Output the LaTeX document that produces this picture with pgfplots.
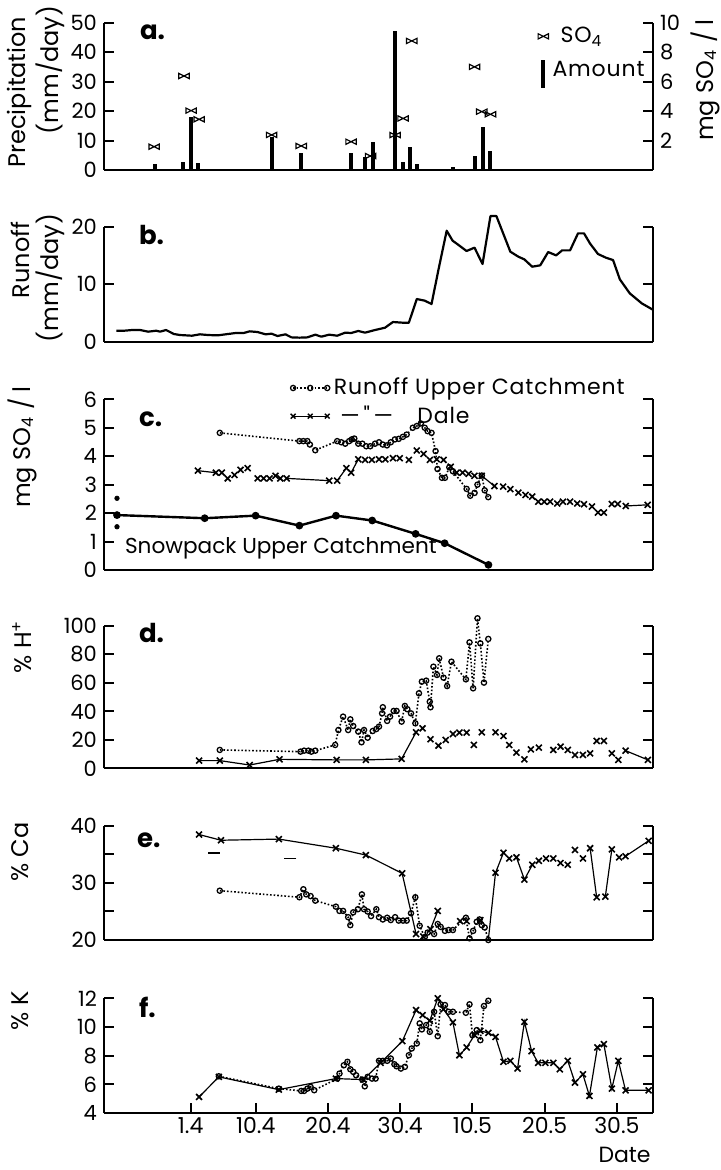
\documentclass[border=0pt]{standalone}
\usepackage{fontspec}
\setmainfont{Poppins}
\usepackage{pgfplots}
\usepackage{pgfplotstable}
\pgfplotsset{compat=1.18}
\newcommand\tickfont{\fontsize{10.5}{12}\selectfont}
\newcommand\xtickfont{\fontsize{11}{13}\selectfont}
\newcommand\labfont{\fontsize{12}{14}\selectfont}
\newcommand\panfont{\fontsize{13}{15}\selectfont\bfseries}
\newcommand\legfont{\fontsize{11}{13}\selectfont\addfontfeature{LetterSpace=4}}
\newcommand\snowfont{\fontsize{10.8}{13}\selectfont}

\pgfdeclareplotmark{bowtie}{%
  \pgfpathmoveto{\pgfqpoint{-2.6pt}{-1.3pt}}%
  \pgfpathlineto{\pgfqpoint{-2.6pt}{1.3pt}}%
  \pgfpathlineto{\pgfqpoint{2.6pt}{-1.3pt}}%
  \pgfpathlineto{\pgfqpoint{2.6pt}{1.3pt}}%
  \pgfpathclose
  \pgfusepathqstroke}

\pgfplotsset{
 panel/.style={scale only axis, width=274.5pt, xmin=-11, xmax=65,
   axis x line*=bottom, axis y line*=box,
   axis line style={line width=1pt},
   tick align=inside, major tick length=5pt,
   tick style={line width=1pt, black},
   xtick=\empty, yticklabel pos=left, clip=false,
   tick label style={font=\tickfont},
   /pgf/number format/assume math mode=true,
   unbounded coords=jump},
 dalemk/.style={black, only marks, mark=x, mark size=2.1pt, mark options={line width=0.8pt}},
 daleln/.style={black, line width=0.6pt, no marks},
 runoff/.style={black, densely dotted, line width=0.8pt, mark=o, mark size=1.3pt, mark options={solid, line width=0.65pt}},
 onelegend/.style={legend image code/.code={\draw[##1] plot coordinates {(0.1cm,0cm)};}},
 threelegend/.style={legend image code/.code={\draw[##1] plot coordinates {(0cm,0cm) (0.3cm,0cm) (0.6cm,0cm)};}},
 barlegend/.style={legend image code/.code={\draw[black, line width=2pt] (0.1cm,-0.3cm) -- (0.1cm,0.18cm);}},
}

% ---------------- panel a
\pgfplotstableread{
x y
-4 2.0
0 2.8
1 18.1
2 2.5
12.2 11.1
16.3 5.7
23.2 5.9
25.2 4.5
26.3 9.6
29.3 47.2
30.4 2.7
31.3 7.9
32.3 2.0
37.3 1.1
40.3 4.9
41.4 14.7
42.5 6.4
}\precip
\pgfplotstableread{
x y
-4.06 1.58
0.07 6.38
1.06 4.03
2.17 3.44
12.2 2.38
16.3 1.63
23.2 1.92
25.9 0.95
29.3 2.37
30.4 3.5
31.6 8.76
40.3 7.0
41.3 3.96
42.5 3.78
}\sofour
% ---------------- panel b
\pgfplotstableread{
x y
-9.30 1.91
-8.19 1.91
-7.09 2.03
-5.99 2.03
-4.89 1.74
-3.79 1.91
-3.24 1.74
-2.41 2.03
-1.31 1.33
-0.48 1.16
1.17 1.04
2.28 1.28
3.38 1.16
4.75 1.10
6.13 1.33
7.23 1.51
8.34 1.51
9.16 1.80
10.26 1.68
11.37 1.28
12.19 1.39
13.02 0.99
14.12 1.28
14.95 0.75
16.05 0.70
17.15 0.75
18.25 1.22
19.08 0.87
20.18 1.22
21.28 1.04
22.39 1.57
23.21 1.51
24.20 1.86
25.14 1.57
26.52 2.03
27.90 2.43
29.00 3.42
30.38 3.30
31.20 3.30
32.30 7.42
33.41 7.13
34.34 6.55
35.34 12.75
36.44 19.30
37.26 17.56
38.09 16.81
39.19 15.77
40.29 16.35
41.40 13.51
42.50 21.85
43.32 21.85
45.25 15.65
46.36 14.78
47.18 14.32
48.28 13.04
49.39 13.28
50.49 15.59
51.59 15.01
52.42 15.88
53.52 15.88
54.62 18.84
55.45 18.84
56.27 17.10
57.38 15.25
58.48 14.61
59.47 14.20
60.41 10.84
61.78 8.41
63.44 6.67
65.00 5.55
}\runoffb
% ---------------- panel c
\pgfplotstableread{
x y
5.03 4.82
16.05 4.53
16.6 4.53
17.15 4.53
17.5 4.41
18.25 4.21
21.28 4.53
21.84 4.49
22.39 4.44
22.94 4.53
23.3 4.59
23.65 4.62
24.2 4.44
24.76 4.44
25.3 4.35
25.86 4.35
26.52 4.44
27.07 4.49
27.6 4.41
28.17 4.38
28.7 4.49
29.27 4.59
29.8 4.61
30.38 4.68
30.9 4.76
31.75 5.0
32.3 5.06
32.86 5.15
33.4 5.0
33.8 4.88
34.34 4.82
34.9 4.18
35.17 3.55
35.78 3.24
36.2 3.24
36.8 3.61
37.3 3.47
39.2 2.85
39.7 2.61
40.3 2.71
40.7 3.0
41.3 3.32
41.7 2.8
42.2 2.56
}\cRun
\pgfplotstableread{
x y
2.0 3.49
4.48 3.42
5.31 3.42
6.13 3.22
7.07 3.34
7.9 3.52
8.89 3.58
10.26 3.22
11.09 3.22
11.92 3.22
12.74 3.31
13.4 3.22
14.29 3.22
20.18 3.14
21.28 3.14
22.55 3.58
23.21 3.42
24.2 3.89
25.14 3.87
26.08 3.87
27.07 3.89
27.95 3.89
29.0 3.93
29.94 3.93
31.2 3.87
32.3 4.20
33.24 4.08
34.12 3.87
35.06 3.89
36.0 3.87
36.99 3.63
37.81 3.42
38.64 3.42
39.47 3.38
40.29 3.31
41.29 3.31
43.05 2.95
44.26 2.93
45.25 2.84
46.36 2.72
47.35 2.64
48.28 2.58
49.11 2.40
49.94 2.40
50.76 2.40
51.75 2.34
52.53 2.40
53.52 2.40
54.51 2.34
55.45 2.31
56.55 2.23
57.38 2.02
58.2 2.02
59.3 2.32
60.13 2.32
61.23 2.25
64.26 2.29
}\cDale
\pgfplotstableread{
x y
2.0 3.49
4.48 3.42
nan nan
14.29 3.22
20.18 3.14
nan nan
21.28 3.14
22.55 3.58
nan nan
23.21 3.42
24.2 3.89
nan nan
41.29 3.31
43.05 2.95
nan nan
61.23 2.25
64.26 2.29
}\cDaleLn
\pgfplotstableread{
x y
-9.2 1.93
2.94 1.82
9.99 1.91
16.05 1.56
21.12 1.91
26.13 1.74
32.14 1.27
36.16 0.94
42.22 0.18
}\cSnow
\pgfplotstableread{
x y
-9.2 2.52
-9.2 1.52
}\cSnowExtra
% ---------------- panel d
\pgfplotstableread{
x y
5.03 12.9
16.2 11.7
16.7 12.4
17.3 12.4
17.7 11.7
18.25 12.4
21.0 16.4
21.45 26.9
22.1 36.3
22.8 26.9
23.1 34.4
23.5 29.7
24.2 25.8
24.65 18.3
25.0 26.9
25.5 21.5
26.2 26.2
26.7 27.6
27.07 29.3
27.5 38.6
27.6 42.9
28.2 33.3
28.6 36.3
29.1 40.3
29.5 40.3
30.2 32.8
30.65 43.8
31.0 41.5
31.5 38.6
32.1 31.6
32.6 52.7
33.0 60.9
33.6 61.6
34.1 46.8
34.2 42.9
34.6 71.4
35.1 65.6
35.4 77.3
36.0 63.7
36.5 57.8
37.1 74.9
39.1 62.5
39.6 88.5
40.1 56.2
40.7 105.4
41.1 87.8
41.6 60.2
42.2 90.9
}\dRun
\pgfplotstableread{
x y
2.16 5.4
5.03 5.4
9.16 2.3
13.3 6.3
21.2 5.9
25.25 5.9
30.2 6.6
32.2 25.3
33.1 28.1
34.2 20.4
35.3 15.9
36.3 19.9
37.3 24.1
38.2 25.1
39.2 25.1
40.2 16.4
41.3 25.3
43.2 25.3
44.3 22.7
45.1 16.4
46.1 11.0
47.2 6.3
48.1 13.3
49.2 14.5
51.2 12.9
52.2 15.2
53.2 12.9
54.2 9.4
55.3 9.4
56.3 10.5
57.2 19.2
58.2 19.2
59.3 10.5
60.2 5.9
61.2 12.4
64.3 5.9
}\dDale
\pgfplotstableread{
x y
2.16 5.4
5.03 5.4
9.16 2.3
13.3 6.3
21.2 5.9
25.25 5.9
30.2 6.6
32.2 25.3
nan nan
61.2 12.4
64.3 5.9
}\dDaleLn
% ---------------- panel e
\pgfplotstableread{
x y
5.03 28.65
16.05 27.5
16.6 28.9
17.0 28.0
17.6 27.7
18.25 26.9
21.1 25.85
21.6 25.1
22.1 25.1
22.8 24.0
23.1 22.6
23.5 24.85
24.15 25.4
24.7 28.0
25.0 25.4
25.5 25.0
25.97 24.2
26.7 25.4
27.07 24.0
27.6 23.6
28.2 23.9
28.7 23.5
29.3 24.0
29.8 23.4
30.4 23.4
30.9 23.4
31.5 24.7
32.1 27.5
32.7 22.5
33.4 20.5
33.8 21.3
34.7 21.05
35.2 22.8
35.6 22.3
36.2 21.6
36.7 21.75
37.3 21.75
39.1 23.9
39.6 20.3
40.1 21.6
40.6 23.2
41.0 23.6
41.3 22.6
41.7 22.2
42.2 20.0
}\eRun
\pgfplotstableread{
x y
2.16 38.5
5.2 37.5
13.2 37.7
21.1 36.1
25.25 34.9
30.27 31.7
32.2 21.05
33.2 20.6
34.2 21.9
35.2 25.1
38.3 23.3
39.2 23.3
41.1 23.5
43.2 31.8
44.3 35.3
45.1 34.3
46.1 34.5
47.2 30.6
48.3 33.2
49.2 33.9
50.2 34.3
51.2 34.3
52.2 33.5
53.2 33.2
54.2 35.8
55.3 34.3
56.3 36.1
57.2 27.5
58.4 27.6
59.3 35.9
60.3 34.5
61.2 34.7
64.4 37.4
}\eDale
\pgfplotstableread{
x y
2.16 38.5
5.2 37.5
13.2 37.7
21.1 36.1
25.25 34.9
30.27 31.7
32.2 21.05
nan nan
34.2 21.9
35.2 25.1
nan nan
42.2 20.0
43.2 31.8
44.3 35.3
nan nan
46.1 34.5
47.2 30.6
48.3 33.2
nan nan
56.3 36.1
57.2 27.5
nan nan
58.4 27.6
59.3 35.9
nan nan
61.2 34.7
64.4 37.4
}\eDaleLn
\pgfplotstableread{
x y
4.2 35.3
14.8 34.3
}\eDash
% ---------------- panel f
\pgfplotstableread{
x y
4.9 6.56
13.2 5.70
16.3 5.54
16.7 5.54
17.15 5.70
17.6 5.82
18.1 5.59
21.3 6.40
21.6 6.75
22.2 7.33
22.7 7.57
23.1 7.05
23.5 6.87
23.9 6.63
24.76 6.33
25.1 5.86
25.5 6.52
26.1 6.40
26.6 6.40
27.07 7.64
27.6 7.64
28.2 7.64
28.7 7.80
29.2 7.40
29.5 7.26
30.1 7.10
30.65 7.22
31.2 8.03
31.6 8.50
32.3 8.85
32.7 10.25
33.0 9.83
33.6 10.13
34.1 9.66
34.7 11.06
35.2 9.36
35.6 11.58
36.2 11.53
36.7 11.06
37.3 11.06
39.1 10.99
39.6 11.58
40.0 9.43
40.6 9.78
41.1 9.08
41.6 11.46
42.2 11.83
}\fRun
\pgfplotstableread{
x y
2.16 5.12
4.9 6.52
13.2 5.63
21.1 6.40
24.9 6.33
27.3 7.50
30.3 9.01
32.2 11.18
33.1 10.83
34.1 10.43
35.2 12.0
36.0 11.23
37.3 10.32
38.2 8.03
39.2 8.57
40.3 9.43
41.1 9.73
42.2 9.59
43.2 9.31
44.3 7.57
45.25 7.64
46.25 7.10
47.2 10.36
48.2 8.31
49.1 7.50
50.1 7.50
51.2 7.50
52.1 7.05
53.2 7.64
54.2 6.12
55.3 6.70
56.2 5.19
57.3 8.57
58.2 8.80
59.3 5.70
60.2 7.64
61.2 5.58
64.4 5.58
}\fDale

\begin{document}
\begin{tikzpicture}
\useasboundingbox (0,0) rectangle (360pt,585pt);

% ===== a
\begin{axis}[panel, at={(52pt,500pt)}, anchor=south west, height=73.65pt,
  ymin=0, ymax=50, ytick={0,10,20,30,40,50}, axis y line*=left]
\addplot[black, ycomb, line width=2pt, no marks] table {\precip};
\end{axis}
\begin{axis}[panel, at={(52pt,500pt)}, anchor=south west, height=73.65pt,
  ymin=0, ymax=10, ytick={2,4,6,8,10}, axis y line*=right, axis x line=none,
  yticklabel pos=right,
  legend style={at={(axis description cs:0.79,1.0)}, anchor=north west, draw=none, fill=none,
    inner sep=0pt, font=\legfont, row sep=4pt},
  legend cell align=left]
\addplot[black, only marks, mark=bowtie, mark options={line width=0.6pt}, onelegend] table {\sofour};
\addlegendentry{\hspace{4pt}SO\textsubscript{4}}
\addlegendimage{barlegend}
\addlegendentry{Amount}
\end{axis}

% ===== b
\begin{axis}[panel, at={(52pt,414.15pt)}, anchor=south west, height=57.5pt,
  ymin=0, ymax=20, ytick={0,10,20}]
\addplot[black, line width=1.1pt, no marks, line join=round] table {\runoffb};
\end{axis}

% ===== c
\begin{axis}[panel, at={(52pt,300pt)}, anchor=south west, height=85.35pt,
  ymin=0, ymax=6, ytick={0,1,2,3,4,5,6},
  legend style={at={(axis description cs:0.339,1.15)}, anchor=north west, draw=none, fill=none,
    inner sep=0pt, font=\legfont, row sep=0pt},
  legend cell align=left, threelegend]
\addlegendimage{runoff}
\addlegendentry{Runoff Upper Catchment}
\addlegendimage{black, line width=0.5pt, mark=x, mark size=1.7pt, mark options={line width=0.7pt}}
\addlegendentry{\hspace{0.3em}\textemdash\,\textquotedbl\,\textemdash\hspace{1.1em}Dale}
\addplot[runoff, forget plot] table {\cRun};
\addplot[dalemk, forget plot] table {\cDale};
\addplot[daleln, forget plot] table {\cDaleLn};
\addplot[black, line width=1.2pt, mark=*, mark size=1.3pt, forget plot] table {\cSnow};
\addplot[black, only marks, mark=*, mark size=1.1pt, forget plot] table {\cSnowExtra};
\end{axis}

% ===== d
\begin{axis}[panel, at={(52pt,200.85pt)}, anchor=south west, height=71.15pt,
  ymin=0, ymax=100, ytick={0,20,40,60,80,100}]
\addplot[runoff] table {\dRun};
\addplot[dalemk] table {\dDale};
\addplot[daleln] table {\dDaleLn};
\end{axis}

% ===== e
\begin{axis}[panel, at={(52pt,115pt)}, anchor=south west, height=57pt,
  ymin=20, ymax=40, ytick={20,25,30,35,40}, yticklabels={20,,30,,40}]
\addplot[runoff] table {\eRun};
\addplot[dalemk] table {\eDale};
\addplot[daleln] table {\eDaleLn};
\addplot[black, only marks, mark=-, mark size=3pt, mark options={line width=0.8pt}] table {\eDash};
\end{axis}

% ===== f
\begin{axis}[panel, at={(52pt,28.5pt)}, anchor=south west, height=57.35pt,
  ymin=4, ymax=12, ytick={4,6,8,10,12},
  xtick={1,10,20,30,40,50,60},
  xticklabels={1.4,10.4,20.4,30.4,10.5,20.5,30.5},
  xticklabel style={font=\xtickfont, inner sep=2pt}]
\addplot[runoff] table {\fRun};
\addplot[black, line width=0.6pt, mark=x, mark size=2.1pt, mark options={line width=0.8pt}] table {\fDale};
\end{axis}

% panel letters
\node[font=\panfont, anchor=base west] at (66.5pt,565pt) {a.};
\node[font=\panfont, anchor=base west] at (66pt,462.5pt) {b.};
\node[font=\panfont, anchor=base west] at (66pt,371.5pt) {c.};
\node[font=\panfont, anchor=base west] at (66pt,263.5pt) {d.};
\node[font=\panfont, anchor=base west] at (65pt,161pt) {e.};
\node[font=\panfont, anchor=base west] at (66pt,76pt) {f.};

% axis titles
\node[font=\labfont, rotate=90] at (9.5pt,539pt) {Precipitation};
\node[font=\labfont, rotate=90] at (25pt,550pt) {(mm/day)};
\node[font=\labfont, rotate=90] at (10pt,455pt) {Runoff};
\node[font=\labfont, rotate=90] at (25pt,446pt) {(mm/day)};
\node[font=\labfont, rotate=90] at (11pt,361.5pt) {mg SO\textsubscript{4} / l};
\node[font=\labfont, rotate=90] at (11pt,261.5pt) {\% H\textsuperscript{+}};
\node[font=\labfont, rotate=90] at (10pt,159pt) {\% Ca};
\node[font=\labfont, rotate=90] at (10pt,79.5pt) {\% K};
\node[font=\labfont, rotate=90] at (352.5pt,545pt) {mg SO\textsubscript{4} / l};
\node[font=\snowfont, anchor=base west] at (59pt,308pt) {Snowpack Upper Catchment};
\node[font=\xtickfont, anchor=base east, inner sep=0pt] at (325.5pt,3.5pt) {Date};
\end{tikzpicture}
\end{document}
